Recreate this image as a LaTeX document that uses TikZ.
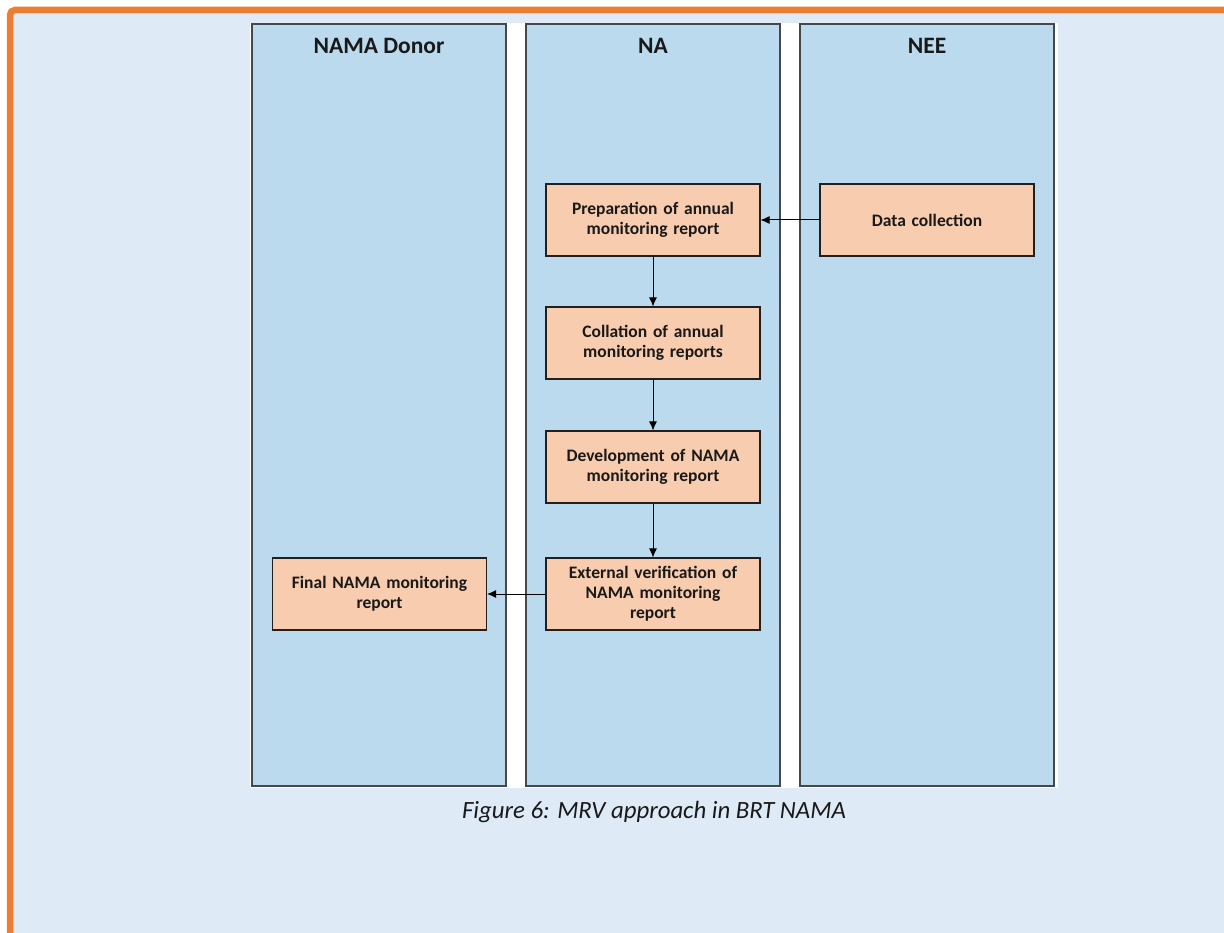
\documentclass[tikz,border=0pt]{standalone}
\usepackage{fontspec}
\setmainfont{Carlito}
\usetikzlibrary{arrows.meta}

\definecolor{pagebg}{HTML}{DEEAF6}
\definecolor{frameorange}{HTML}{ED7D31}
\definecolor{lanefill}{HTML}{BBDAEE}
\definecolor{laneedge}{HTML}{45474C}
\definecolor{boxfill}{HTML}{F8CCAE}
\definecolor{boxedge}{HTML}{231F20}

\tikzset{
  lane/.style={draw=laneedge, fill=lanefill, line width=1.5pt,
    minimum width=254pt, minimum height=762pt, inner sep=0pt},
  lanehead/.style={font=\fontsize{23.5}{27}\selectfont\bfseries, text=black!90},
  stepbox/.style={draw=boxedge, fill=boxfill, line width=1.1pt,
    minimum width=214pt, minimum height=72pt, text width=206pt,
    align=center, inner sep=0pt,
    font=\fontsize{17.5}{19.8}\selectfont\bfseries, text=black!90},
  arr/.style={draw=black, line width=1pt, -{Latex[length=9pt,width=8pt]}},
  caption/.style={font=\fontsize{24.8}{29}\selectfont\itshape, text=black!90}
}

\begin{document}
\begin{tikzpicture}[x=1pt,y=-1pt]
  \useasboundingbox (0,0) rectangle (1224,933);
  \fill[white] (0,0) rectangle (1224,933);
  % framed text panel
  \fill[pagebg] (10,10) rectangle (1224,933);
  \draw[frameorange, line width=6.5pt, rounded corners=5pt]
    (10,940) -- (10,10) -- (1230,10);

  % figure area
  \fill[white] (250,23) rectangle (1058,788);

  % swimlanes
  \node[lane] (donor) at (379,405) {};
  \node[lane] (na)    at (653,405) {};
  \node[lane] (nee)   at (927,405) {};
  \node[lanehead] (donorhead) at (379,46) {NAMA Donor};
  \node[lanehead] (nahead)    at (653,46) {NA};
  \node[lanehead] (neehead)   at (927,46) {NEE};

  % process steps
  \node[stepbox] (prep)  at (653,220) {Preparation of annual\\monitoring report};
  \node[stepbox] (data)  at (927,220) {Data collection};
  \node[stepbox] (coll)  at (653,343) {Collation of annual\\monitoring reports};
  \node[stepbox] (dev)   at (653,467) {Development of NAMA\\monitoring report};
  \node[stepbox] (ext)   at (653,594) {External verification of\\NAMA monitoring\\report};
  \node[stepbox] (final) at (379.5,594) {Final NAMA monitoring\\report};

  % flow
  \draw[arr] (data.west) -- (prep.east);
  \draw[arr] (prep.south) -- (coll.north);
  \draw[arr] (coll.south) -- (dev.north);
  \draw[arr] (dev.south) -- (ext.north);
  \draw[arr] (ext.west) -- (final.east);

  % caption
  \node[caption] (cap) at (654,812) {Figure 6: MRV approach in BRT NAMA};
\end{tikzpicture}
\end{document}
